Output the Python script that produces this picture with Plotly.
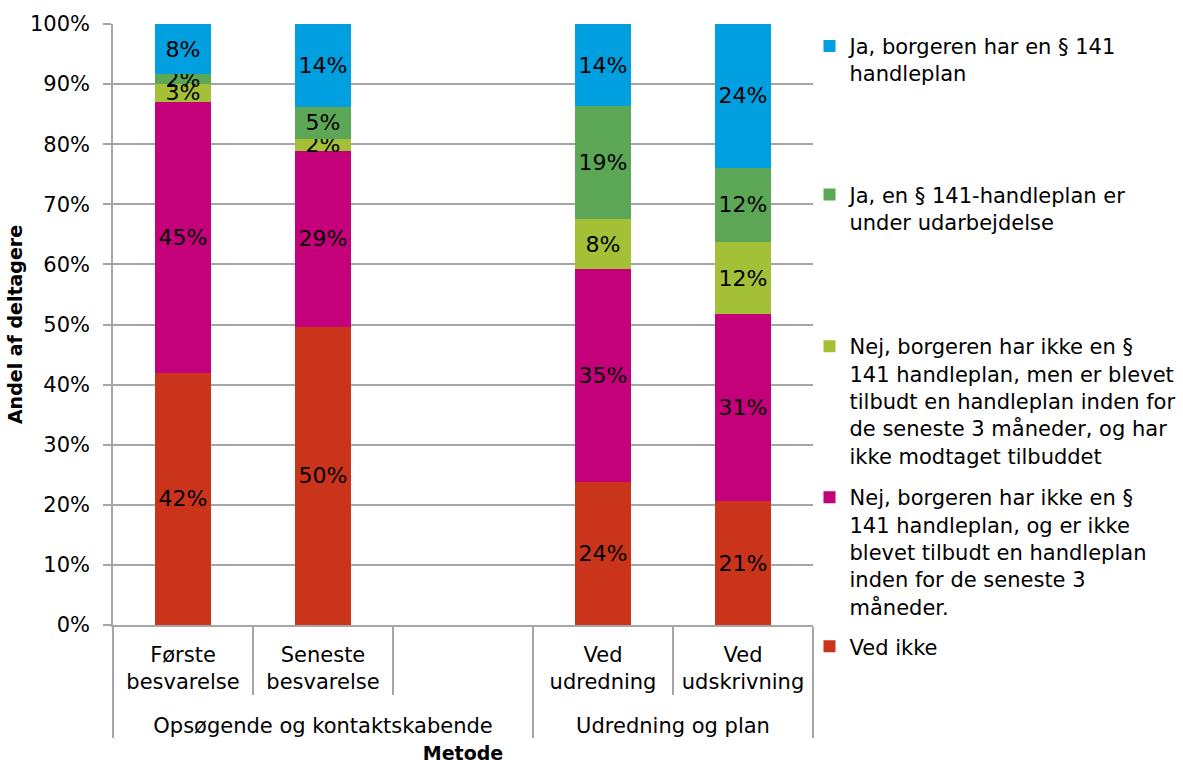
import plotly.graph_objects as go

# Survey answers per method and time point (share of participants, %)
groups = ["Opsøgende og kontaktskabende"] * 3 + ["Udredning og plan"] * 2
timepoints = ["Første<br>besvarelse<br> ", "Seneste<br>besvarelse<br> ", " ",
              "Ved<br>udredning<br> ", "Ved<br>udskrivning<br> "]

ved_ikke = [42.0, 49.6, None, 23.8, 20.6]
nej_ikke_tilbudt = [45.1, 29.3, None, 35.4, 31.1]
nej_tilbudt = [2.9, 2.0, None, 8.3, 12.0]
ja_under_udarbejdelse = [1.6, 5.3, None, 18.8, 12.4]
ja_handleplan = [8.4, 13.8, None, 13.7, 23.9]

# name, values, colour, legend id, legend top (paper y)
series = [
    ("Ved ikke", ved_ikke, "#C9341B", "legend5", -0.002),
    ("Nej, borgeren har ikke en §<br>141 handleplan, og er ikke<br>blevet tilbudt en handleplan<br>inden for de seneste 3<br>måneder.",
     nej_ikke_tilbudt, "#C4007A", "legend4", 0.246),
    ("Nej, borgeren har ikke en §<br>141 handleplan, men er blevet<br>tilbudt en handleplan inden for<br>de seneste 3 måneder, og har<br>ikke modtaget tilbuddet",
     nej_tilbudt, "#A3C037", "legend3", 0.4975),
    ("Ja, en § 141-handleplan er<br>under udarbejdelse", ja_under_udarbejdelse, "#5CA755", "legend2", 0.750),
    ("Ja, borgeren har en § 141<br>handleplan", ja_handleplan, "#009FE0", "legend", 0.997),
]

FONT = "DejaVu Sans, Verdana, sans-serif"
GRID = "#A6A6A6"

fig = go.Figure()
legend_layouts = {}
for name, vals, color, leg, ytop in series:
    fig.add_trace(go.Bar(
        x=[groups, timepoints],
        y=vals,
        name=name,
        legend=leg,
        showlegend=True,
        marker=dict(color=color, line=dict(width=0)),
        width=0.4,
        texttemplate="%{y:.0f}%",
        textposition="inside",
        insidetextanchor="middle",
        textfont=dict(color="black", size=22, family=FONT),
        constraintext="none",
    ))
    legend_layouts[leg] = dict(
        x=0.995, xanchor="left", y=ytop, yanchor="top",
        valign="top", bgcolor="rgba(0,0,0,0)",
        font=dict(size=21, family=FONT, color="black"),
        itemwidth=30, maxheight=400,
    )

fig.update_layout(
    width=1183, height=760,
    barmode="stack",
    showlegend=True,
    plot_bgcolor="white", paper_bgcolor="white",
    font=dict(family=FONT, size=21, color="black"),
    margin=dict(l=113, r=370, t=24, b=135, autoexpand=False),
    uniformtext=dict(minsize=22, mode="show"),
    **legend_layouts,
)

fig.update_yaxes(
    range=[0, 100], dtick=10, ticksuffix="%",
    showgrid=True, gridcolor=GRID, gridwidth=1.5,
    showline=True, linecolor=GRID, linewidth=1.5,
    ticks="outside", ticklen=8, tickcolor=GRID, tickwidth=1.5,
    ticklabelstandoff=9, tickfont=dict(size=21),
    title=dict(text="<b>Andel af deltagere</b>", font=dict(size=19), standoff=2),
    zeroline=False, automargin=False,
)
fig.update_xaxes(
    type="multicategory",
    showline=True, linecolor=GRID, linewidth=1.5,
    ticks="outside", ticklen=68, tickcolor=GRID, tickwidth=1.5,
    ticklabelstandoff=10,
    showdividers=True, dividercolor=GRID, dividerwidth=1.5,
    title=dict(text="<b>Metode</b>", font=dict(size=19), standoff=10),
    automargin=False,
)

fig.write_html("out.html")
